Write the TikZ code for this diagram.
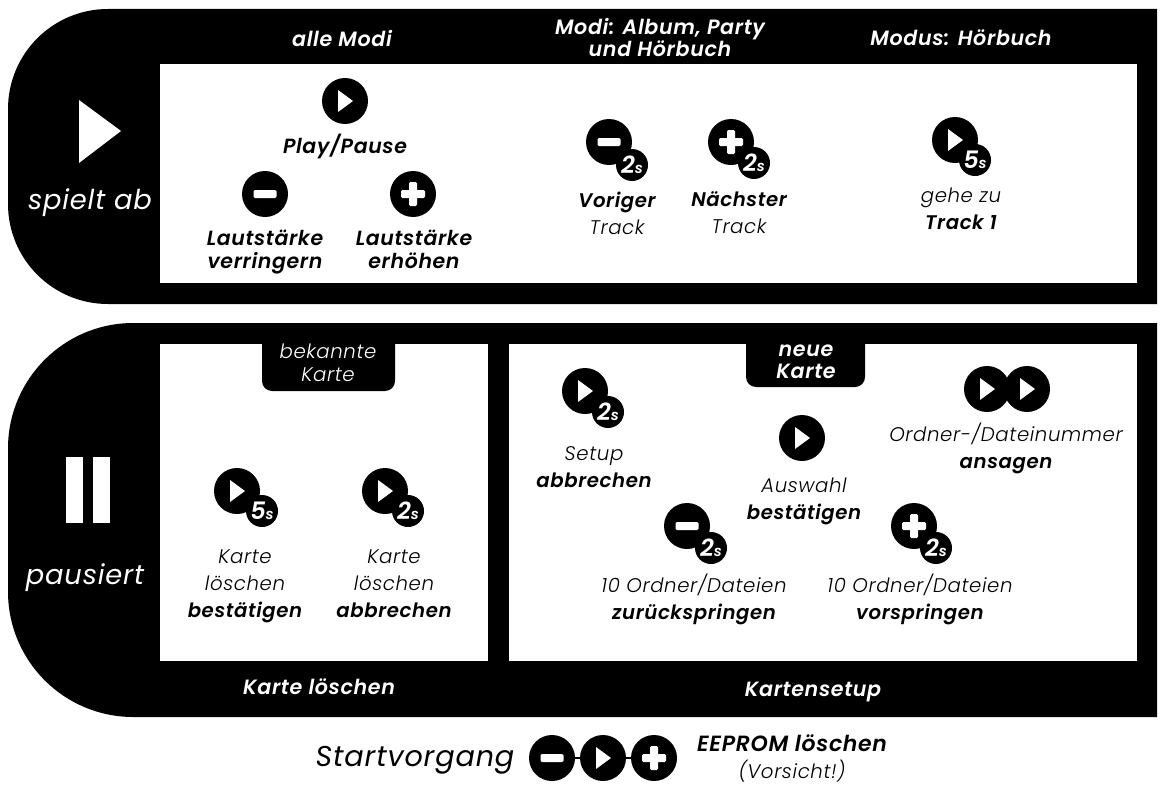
\documentclass[tikz,border=0pt]{standalone}
\usepackage{fontspec}
\setmainfont{Poppins}[ItalicFont=* Light Italic, BoldItalicFont=* SemiBold Italic, LetterSpace=3]
\newfontfamily\sidefont{Poppins}[UprightFont=* Italic, LetterSpace=3]
\usepackage{tikz}
\usetikzlibrary{positioning, calc}

\newcommand{\playglyph}[1]{\fill[white] ([shift={(-7,-11)}]#1.center) -- ([shift={(8,0)}]#1.center) -- ([shift={(-7,11)}]#1.center) -- cycle;}
\newcommand{\minusglyph}[1]{\fill[white, rounded corners=1pt] ([shift={(-11.5,-4)}]#1.center) rectangle ([shift={(11.5,4)}]#1.center);}
\newcommand{\plusglyph}[1]{\fill[white, rounded corners=1pt] ([shift={(-12,-4)}]#1.center) rectangle ([shift={(12,4)}]#1.center);
  \fill[white, rounded corners=1pt] ([shift={(-4,-12)}]#1.center) rectangle ([shift={(4,12)}]#1.center);}
\newcommand{\secs}[1]{#1{\fontsize{11}{11}\selectfont s}}

\begin{document}
\begin{tikzpicture}[
  x=0.75pt, y=-0.75pt,
  btn/.style={circle, fill=black, minimum size=34.5pt, inner sep=0pt},
  badge/.style={circle, fill=black, minimum size=24pt, inner sep=0pt, text=white,
    font=\fontsize{18}{18}\selectfont\bfseries\itshape},
  head/.style={text=white, align=center, yshift=-2.5pt, font=\fontsize{15.5}{16.5}\selectfont\bfseries\itshape,
    execute at begin node=\strut, execute at end node=\strut},
  lbl/.style={text=black, align=center, yshift=-2.5pt, font=\fontsize{14.8}{20.25}\selectfont\itshape,
    execute at begin node=\strut, execute at end node=\strut},
  strong/.style={lbl, font=\fontsize{15.4}{20.25}\selectfont\itshape},
  side/.style={text=white, yshift=-2.5pt, font=\fontsize{20.5}{24}\selectfont\sidefont}
]
  \useasboundingbox (0,0) rectangle (1170,792);

  % Bands
  \fill[black] (1157,9) [rounded corners=75pt] -- (8,9) -- (8,304) [sharp corners] -- (1157,304) -- cycle;
  \fill[black] (1157,323) [rounded corners=94pt] -- (8,323) -- (8,717) [sharp corners] -- (1157,717) -- cycle;

  % Panels
  \fill[white] (160,64) rectangle (1137,283);
  \fill[white] (160,344) rectangle (488,661);
  \fill[white] (509,344) rectangle (1137,661);

  % Tabs
  \fill[black] (262,344) [rounded corners=7.5pt] -- (262,391) -- (395,391) [sharp corners] -- (395,344) -- cycle;
  \fill[black] (746,344) [rounded corners=7.5pt] -- (746,387) -- (865,387) [sharp corners] -- (865,344) -- cycle;

  % Headings
  \node[head] (allemodi) at (342,38) {alle Modi};
  \node[head] (albumparty) at (660,37) {Modi: Album, Party\\und Hörbuch};
  \node[head] (hoerbuch) at (961,38) {Modus: Hörbuch};
  \node[head, font=\fontsize{14.8}{17.25}\selectfont\itshape] (bekannte) at (328,362.5) {bekannte\\Karte};
  \node[head] (neue) at (806,362) {neue\\Karte};
  \node[head] (kartesetup) at (319,687) {Karte löschen};
  \node[head] (kartensetup) at (813,689) {Kartensetup};

  % Status
  \fill[white] (79,100) -- (121,131) -- (79,163) -- cycle;
  \node[side] (spielt) at (90,199) {spielt ab};
  \fill[white] (66,457) rectangle (83,523);
  \fill[white] (93,457) rectangle (110,523);
  \node[side] (pausiert) at (85,574) {pausiert};

  % alle Modi
  \node[btn] (pp) at (345,101) {}; \playglyph{pp}
  \node[strong] (pplabel) at (345,144) {\textbf{Play/Pause}};
  \node[btn] (leiser) at (265,194) {}; \minusglyph{leiser}
  \node[strong] (leiserlabel) at (265,250) {\textbf{Lautstärke}\\[-3pt]\textbf{verringern}};
  \node[btn] (lauter) at (413,194) {}; \plusglyph{lauter}
  \node[strong] (lauterlabel) at (414,250) {\textbf{Lautstärke}\\[-3pt]\textbf{erhöhen}};

  % Album, Party, Hörbuch
  \node[btn] (vor) at (609,142) {}; \minusglyph{vor}
  \node[badge] (vorbadge) at (632,165) {\secs{2}};
  \node[lbl] (vorlabel) at (617,214) {\textbf{Voriger}\\Track};
  \node[btn] (nach) at (731,142) {}; \plusglyph{nach}
  \node[badge] (nachbadge) at (754,163) {\secs{2}};
  \node[lbl] (nachlabel) at (739,213) {\textbf{Nächster}\\Track};

  % Hörbuch
  \node[btn] (erster) at (955,140) {}; \playglyph{erster}
  \node[badge] (ersterbadge) at (975,160) {\secs{5}};
  \node[lbl] (ersterlabel) at (961,209) {gehe zu\\\textbf{Track 1}};

  % Karte löschen
  \node[btn] (loeschen) at (237,491) {}; \playglyph{loeschen}
  \node[badge] (loeschenbadge) at (262,511) {\secs{5}};
  \node[lbl] (loeschenlabel) at (245,584) {Karte\\löschen\\\textbf{bestätigen}};
  \node[btn] (behalten) at (385,491) {}; \playglyph{behalten}
  \node[badge] (behaltenbadge) at (408,511) {\secs{2}};
  \node[lbl] (behaltenlabel) at (394,584) {Karte\\löschen\\\textbf{abbrechen}};

  % Kartensetup
  \node[btn] (setup) at (585,391) {}; \playglyph{setup}
  \node[badge] (setupbadge) at (608,412) {\secs{2}};
  \node[lbl] (setuplabel) at (594,468) {Setup\\\textbf{abbrechen}};
  \node[btn] (auswahl) at (802,438) {}; \playglyph{auswahl}
  \node[lbl] (auswahllabel) at (804,499) {Auswahl\\\textbf{bestätigen}};
  \node[btn] (ansageA) at (987,389) {}; \playglyph{ansageA}
  \node[btn] (ansageB) at (1027,389) {}; \playglyph{ansageB}
  \node[lbl] (ansagelabel) at (1006,446) {Ordner-/Dateinummer\\\textbf{ansagen}};
  \node[btn] (zurueck) at (687,526) {}; \minusglyph{zurueck}
  \node[badge] (zurueckbadge) at (711,548) {\secs{2}};
  \node[lbl] (zuruecklabel) at (694,597) {10 Ordner/Dateien\\\textbf{zurückspringen}};
  \node[btn] (vorwaerts) at (914,526) {}; \plusglyph{vorwaerts}
  \node[badge] (vorwaertsbadge) at (936,548) {\secs{2}};
  \node[lbl] (vorwaertslabel) at (920,597) {10 Ordner/Dateien\\\textbf{vorspringen}};

  % Startvorgang
  \node[side, text=black, font=\fontsize{21.5}{24}\selectfont\sidefont] (start) at (415,757) {Startvorgang};
  \node[btn] (startminus) at (552,758) {};
  \node[btn] (startplay) at (603,758) {};
  \node[btn] (startplus) at (654,758) {};
  \draw[black, line width=2pt] (startminus) -- (startplay);
  \draw[black, line width=2pt] (startplay) -- (startplus);
  \minusglyph{startminus} \playglyph{startplay} \plusglyph{startplus}
  \node[lbl] (eeprom) at (792,757) {{\fontsize{16.5}{20.25}\selectfont\textbf{EEPROM löschen}}\\(Vorsicht!)};
\end{tikzpicture}
\end{document}
